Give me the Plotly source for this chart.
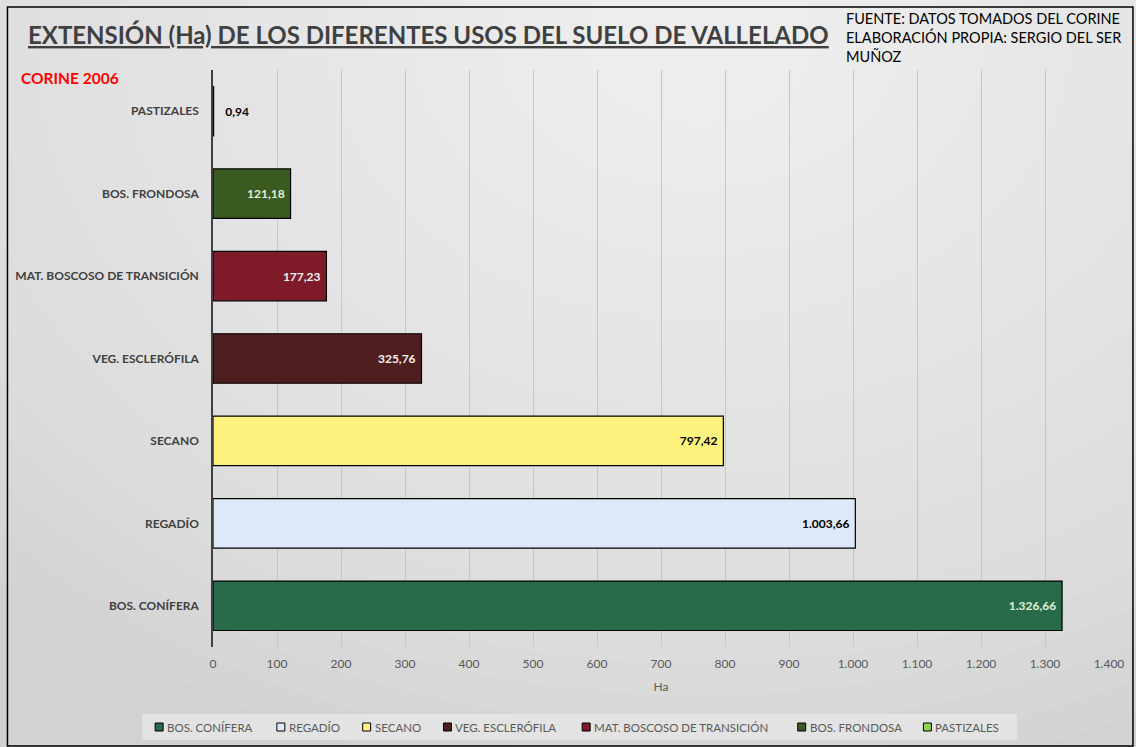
import plotly.graph_objects as go

categories = ["BOS. CONÍFERA", "REGADÍO", "SECANO", "VEG. ESCLERÓFILA",
              "MAT. BOSCOSO DE TRANSICIÓN", "BOS. FRONDOSA", "PASTIZALES"]
values = [1326.66, 1003.66, 797.42, 325.76, 177.23, 121.18, 0.94]
value_labels = ["1.326,66", "1.003,66", "797,42", "325,76", "177,23", "121,18", "0,94"]
colors = ["#286b4b", "#dde9f6", "#fdf27e", "#4f1e1f", "#7e1a2a", "#3a5a20", "#92d050"]
label_colors = ["#e2efda", "#000000", "#000000", "#f2f2f2", "#f2f2f2", "#e2efda", "#000000"]
tick_vals = [0, 100, 200, 300, 400, 500, 600, 700, 800, 900, 1000, 1100, 1200, 1300, 1400]
tick_text = ["0", "100", "200", "300", "400", "500", "600", "700", "800", "900",
             "1.000", "1.100", "1.200", "1.300", "1.400"]

W, H = 1136, 747
L, R, T, B = 213, 1111, 70, 647


def px(x):
    return (x - L) / (R - L)


def py(y):
    return (B - y) / (B - T)


fig = go.Figure()
for i, cat in enumerate(categories):
    outside = values[i] < 50
    txt = ("\u00a0\u00a0\u00a0" + value_labels[i]) if outside else (value_labels[i] + "\u00a0")
    fig.add_trace(go.Bar(
        y=[cat], x=[values[i]], orientation="h", name=cat,
        marker=dict(color=colors[i], line=dict(color="#000000", width=1.2)),
        width=0.6,
        text=[txt],
        textposition="outside" if outside else "inside",
        insidetextanchor="end",
        textfont=dict(family="Lato", size=12, color=label_colors[i], weight="bold"),
        cliponaxis=False,
        showlegend=False,
    ))

shapes = []
cx, cy = 700, 40
n = 22
for k in range(n):
    rx = 1000 - k * 42
    ry = rx * 0.75
    shapes.append(dict(type="circle", xref="paper", yref="paper",
                       x0=px(cx - rx), x1=px(cx + rx), y0=py(cy + ry), y1=py(cy - ry),
                       fillcolor="rgba(255,255,255,0.055)", line=dict(width=0), layer="below"))
# legend backdrop
shapes.append(dict(type="rect", xref="paper", yref="paper",
                   x0=px(142), x1=px(1019), y0=py(740), y1=py(714),
                   fillcolor="#e3e3e3", line=dict(width=0), layer="below"))

annotations = [
    dict(text="<u>EXTENSIÓN (Ha) DE LOS DIFERENTES USOS DEL SUELO DE VALLELADO</u>",
         xref="paper", yref="paper", x=px(429), y=py(34), xanchor="center", yanchor="middle",
         showarrow=False, font=dict(family="Lato", size=24, color="#404040", weight="bold")),
    dict(text="FUENTE: DATOS TOMADOS DEL CORINE<br>ELABORACIÓN PROPIA: SERGIO DEL SER<br>MUÑOZ",
         xref="paper", yref="paper", x=px(845), y=py(8), xanchor="left", yanchor="top",
         align="left", showarrow=False, font=dict(family="Lato", size=14.5, color="#000000")),
    dict(text="CORINE 2006", xref="paper", yref="paper", x=px(19), y=py(78),
         xanchor="left", yanchor="middle", showarrow=False,
         font=dict(family="Lato", size=15.5, color="#ff0000", weight="bold")),
]

# manual single-row legend
legend_x = [155, 277, 363, 444, 583, 799, 925]
legend_y = 727
for i, cat in enumerate(categories):
    x0 = legend_x[i]
    shapes.append(dict(type="rect", xref="paper", yref="paper",
                       x0=px(x0), x1=px(x0 + 8), y0=py(legend_y + 4), y1=py(legend_y - 4),
                       fillcolor=colors[i], line=dict(color="#000000", width=1), layer="above"))
    annotations.append(dict(text=cat, xref="paper", yref="paper", x=px(x0 + 10), y=py(legend_y),
                            xanchor="left", yanchor="middle", showarrow=False,
                            font=dict(family="Lato", size=11.5, color="#595959")))

# outer frame
shapes.append(dict(type="rect", xref="paper", yref="paper",
                   x0=px(7), x1=px(1135), y0=py(746), y1=py(7),
                   line=dict(color="#000000", width=1.5), fillcolor="rgba(0,0,0,0)", layer="above"))

fig.update_layout(
    width=W, height=H,
    margin=dict(l=L, r=W - R, t=T, b=H - B),
    paper_bgcolor="#d2d2d2",
    plot_bgcolor="rgba(0,0,0,0)",
    barmode="overlay",
    showlegend=False,
    xaxis=dict(range=[0, 1400], tickvals=tick_vals, ticktext=tick_text,
               showgrid=True, gridcolor="#c6c6c6", gridwidth=1, zeroline=False,
               tickfont=dict(family="Lato", size=12, color="#595959"),
               ticklabelstandoff=8,
               title=dict(text="Ha", font=dict(family="Lato", size=12, color="#595959"), standoff=12),
               ticks="", showline=False),
    yaxis=dict(type="category", categoryorder="array", categoryarray=categories,
               showline=True, linecolor="#404040", linewidth=1.5, showgrid=False,
               ticks="", ticklabelstandoff=10,
               tickfont=dict(family="Lato", size=12, color="#404040", weight="bold")),
    shapes=shapes,
    annotations=annotations,
    font=dict(family="Lato"),
)

fig.write_html("out.html", config={"displayModeBar": False},
               post_script="document.body.style.margin='0';document.body.style.overflow='hidden';")
